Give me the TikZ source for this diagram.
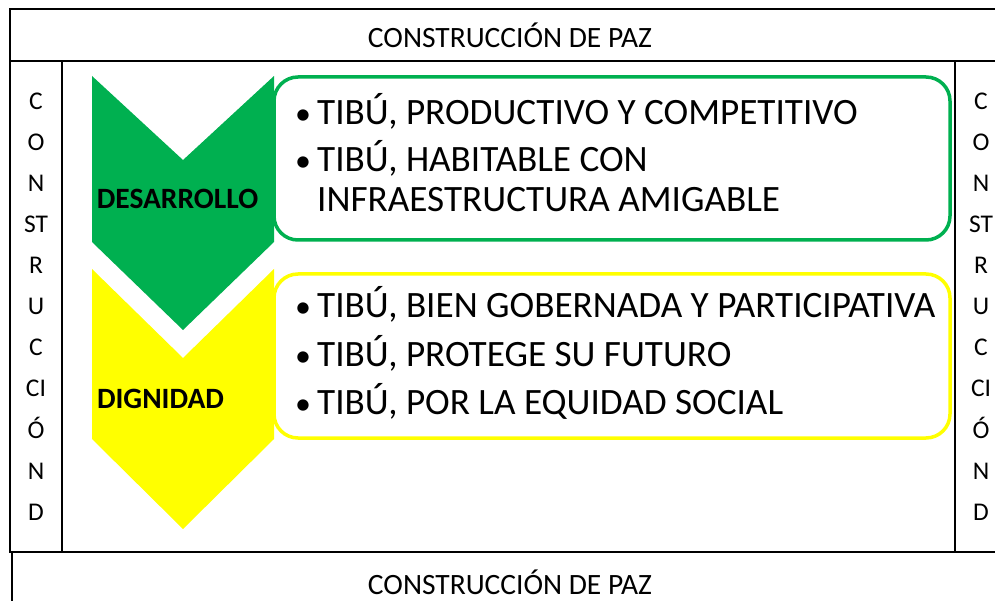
\documentclass[tikz,border=0pt]{standalone}
\usepackage{fontspec}
\setmainfont{Carlito}
\usepackage{tikz}
\definecolor{verde}{RGB}{0,176,80}
\definecolor{amarillo}{RGB}{255,255,0}
\newcommand{\blt}{\makebox[22pt][l]{\fontsize{32}{32}\selectfont•}}

\begin{document}
\begin{tikzpicture}[x=1pt, y=-1pt,
  marco/.style={draw, rectangle, line width=1.6pt, inner sep=0pt},
  titulo/.style={font=\fontsize{29.5}{31}\selectfont},
  letras/.style={align=center, font=\fontsize{25.5}{41.1}\selectfont},
  item/.style={anchor=base west, align=left, inner sep=0pt, font=\fontsize{37.2}{40}\selectfont},
  etiqueta/.style={anchor=base, inner sep=0pt, font=\bfseries\fontsize{29.5}{31}\selectfont}]
\useasboundingbox (0,0) rectangle (995,601);
\clip (0,0) rectangle (995,601);

% marco de construccion de paz
\node[marco, titulo, minimum width=1000pt, minimum height=52pt] (pazArriba) at (510,35) {CONSTRUCCIÓN DE PAZ};
\node[marco, titulo, minimum width=996pt, minimum height=60pt] (pazAbajo) at (510,582) {CONSTRUCCIÓN DE PAZ};
\node[marco, letras, minimum width=52pt, minimum height=491pt] (pazIzq) at (36,306.5) {C\\O\\N\\ST\\R\\U\\C\\CI\\Ó\\N\\D};
\node[marco, letras, minimum width=52pt, minimum height=491pt] (pazDer) at (981,306.5) {C\\O\\N\\ST\\R\\U\\C\\CI\\Ó\\N\\D};

% cajas
\node[draw=verde, line width=3.5pt, rounded corners=24pt, minimum width=676pt, minimum height=163pt] (cajaDes) at (612,158.5) {};
\node[draw=amarillo, line width=3.5pt, rounded corners=24pt, minimum width=676pt, minimum height=164pt] (cajaDig) at (612,356) {};

% flechas
\fill[verde] (92,76) -- (183,160) -- (274,76) -- (274,242) -- (183,330) -- (92,242) -- cycle;
\fill[amarillo] (92,269) -- (183,358) -- (274,269) -- (274,439) -- (183,529) -- (92,439) -- cycle;

\node[etiqueta] (desarrollo) at (177.5,209) {DESARROLLO};
\node[etiqueta] (dignidad) at (160.5,408) {DIGNIDAD};

% ejes
\node[item] (des1) at (295,125) {\blt TIBÚ, PRODUCTIVO Y COMPETITIVO};
\node[item] (des2) at (295,212) {\blt TIBÚ, HABITABLE CON\\\hspace*{22pt}INFRAESTRUCTURA AMIGABLE};
\node[item] (dig1) at (295,318) {\blt TIBÚ, BIEN GOBERNADA Y PARTICIPATIVA};
\node[item] (dig2) at (295,366) {\blt TIBÚ, PROTEGE SU FUTURO};
\node[item] (dig3) at (295,414) {\blt TIBÚ, POR LA EQUIDAD SOCIAL};
\end{tikzpicture}
\end{document}
